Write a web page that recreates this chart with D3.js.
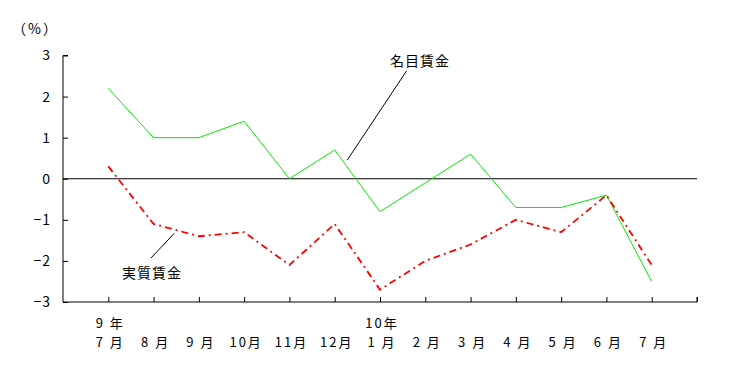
<!DOCTYPE html>
<html><head><meta charset="utf-8">
<script src="https://cdn.jsdelivr.net/npm/d3@7"></script>
<style>
body{margin:0;background:#fff;}
text{font-family:"Noto Sans CJK JP","DejaVu Sans",sans-serif;fill:#000;}
</style></head>
<body><svg id="c" width="733" height="373"></svg>
<script>
const months = ["7 月","8 月","9 月","10月","11月","12月","1 月","2 月","3 月","4 月","5 月","6 月","7 月"];
const years = ["9 年","","","","","","10年","","","","","",""];
const nominal = [2.2,1.0,1.0,1.4,0.0,0.7,-0.8,-0.1,0.6,-0.7,-0.7,-0.4,-2.5];
const real = [0.3,-1.1,-1.4,-1.3,-2.1,-1.1,-2.7,-2.0,-1.6,-1.0,-1.3,-0.4,-2.1];
const yTicks = [3,2,1,0,-1,-2,-3];
const yTickLabels = ["3","2","1","0","−1","−2","−3"];

const svg = d3.select("#c");
const x = d3.scaleLinear().domain([0,14]).range([63,697]);
const y = d3.scaleLinear().domain([-3,3]).range([302,55.5]);

// y axis
const ya = svg.append("g").attr("transform","translate(63,0)")
  .call(d3.axisLeft(y).tickValues(yTicks).tickSize(-5).tickPadding(12).tickFormat((d,i)=>yTickLabels[i]));
ya.select(".domain").attr("stroke","#000").attr("d","M5,55.5H0V302");
ya.selectAll("text").attr("font-size",14).attr("letter-spacing",1);
ya.selectAll("line").attr("stroke","#000");

// x axis
const xa = svg.append("g").attr("transform","translate(0,302)")
  .call(d3.axisBottom(x).tickValues(d3.range(1,15)).tickSize(-5).tickFormat(""));
xa.select(".domain").attr("stroke","#000").attr("d","M63,0H697V-5");
xa.selectAll("line").attr("stroke","#000");

// x labels
const idx = d3.range(months.length);
svg.append("g").selectAll("text").data(idx).join("text")
  .attr("x",i=>x(i+1)+2).attr("y",347).attr("text-anchor","middle").attr("font-size",13).attr("letter-spacing",2).text(i=>months[i]);
svg.append("g").selectAll("text").data(idx.filter(i=>years[i])).join("text")
  .attr("x",i=>x(i+1)+2).attr("y",328).attr("text-anchor","middle").attr("font-size",13).attr("letter-spacing",2).text(i=>years[i]);

// zero line
svg.append("line").attr("x1",63).attr("x2",697).attr("y1",y(0)).attr("y2",y(0)).attr("stroke","#000");

const line = d3.line().x((d,i)=>x(i+1)).y(d=>y(d));
svg.append("path").datum(nominal).attr("d",line).attr("fill","none").attr("stroke","#00ee00").attr("stroke-width",1);
svg.append("path").datum(real).attr("d",line).attr("fill","none").attr("stroke","#ff0000").attr("stroke-width",1.8).attr("stroke-dasharray","7,4,2,4");

// unit
svg.append("text").attr("x",12).attr("y",34).attr("font-size",14).attr("letter-spacing",2).text("（%）");

// annotations
svg.append("text").attr("x",420).attr("y",66).attr("text-anchor","middle").attr("font-size",14).attr("letter-spacing",1).text("名目賃金");
svg.append("line").attr("x1",406.7).attr("y1",70.7).attr("x2",347.3).attr("y2",160).attr("stroke","#000");
svg.append("text").attr("x",152).attr("y",278).attr("text-anchor","middle").attr("font-size",14).attr("letter-spacing",1).text("実質賃金");
svg.append("line").attr("x1",151).attr("y1",258).attr("x2",174.3).attr("y2",233.3).attr("stroke","#000");
</script></body></html>
